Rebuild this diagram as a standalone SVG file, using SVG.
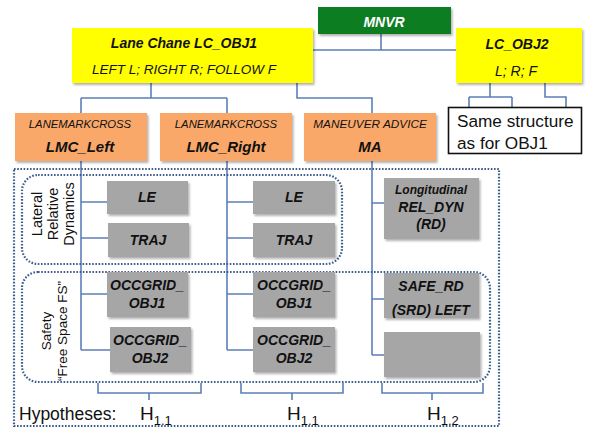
<svg xmlns="http://www.w3.org/2000/svg" width="591" height="429" viewBox="0 0 591 429">
<defs>
<filter id="sh" x="-10%" y="-10%" width="130%" height="140%">
<feDropShadow dx="1.5" dy="2" stdDeviation="1.2" flood-color="#000" flood-opacity="0.3"/>
</filter>
</defs>
<style>
.t{font-family:"Liberation Sans",Arial,sans-serif;fill:#111;text-anchor:middle}
.bi{font-weight:bold;font-style:italic}
.it{font-style:italic}
.yel{fill:#FFFF00}
.org{fill:#F9A86A}
.gry{fill:#A6A6A6}
.con{fill:none;stroke:#5B7FB8;stroke-width:1.6}
.dot{fill:none;stroke:#3E5C8E;stroke-width:2.2;stroke-dasharray:1.6 1.6}
</style>
<rect width="591" height="429" fill="#fff"/>

<g id="connectors">
<path class="con" d="M381 34V50M313 50H456"/>
<path class="con" d="M151 83V98M81 98H227M81 98V113M227 98V113"/>
<path class="con" d="M297 83V98H372V113"/>
<path class="con" d="M490 83V97M469 97H512M469 97V107M512 97V107M545 83V97H566V107"/>
<path class="con" d="M81 160V350M81 202H107M81 238H108M81 294H107M81 350H110"/>
<path class="con" d="M227 160V350M227 202H253M227 238H253M227 294H253M227 350H253"/>
<path class="con" d="M372 160V355M372 203H384M372 299H384M372 355H384"/>
<path class="con" d="M98 383V393H201V383M149 393V400"/>
<path class="con" d="M241 383V393H343V383M292 393V400"/>
<path class="con" d="M382 383V393H483V383M432 393V400"/>
</g>

<g id="outer"><rect class="dot" x="14" y="169" width="485" height="257"/></g>
<g id="lateral-group"><rect class="dot" x="22" y="175" width="320" height="89" rx="16"/>
<text class="t" font-size="14.5" transform="translate(54 214) rotate(-90)"><tspan x="0" y="-12">Lateral</tspan><tspan x="0" y="4">Relative</tspan><tspan x="0" y="20">Dynamics</tspan></text></g>
<g id="safety-group"><rect class="dot" x="22" y="272" width="468" height="110" rx="16"/>
<text class="t" font-size="13.5" transform="translate(55 331) rotate(-90)"><tspan x="0" y="-4">Safety</tspan><tspan x="0" y="12">“Free  Space FS”</tspan></text></g>

<g id="mnvr"><rect x="318" y="7" width="133" height="27" fill="#0E7D22" filter="url(#sh)"/>
<text class="t bi" x="384" y="27" font-size="14" style="fill:#fff">MNVR</text></g>

<g id="lc-obj1"><rect class="yel" x="72" y="28" width="241" height="55" filter="url(#sh)"/>
<text class="t bi" x="184" y="48" font-size="14">Lane Chane LC_OBJ1</text>
<text class="t it" x="184" y="74" font-size="13.5">LEFT L; RIGHT R; FOLLOW F</text></g>

<g id="lc-obj2"><rect class="yel" x="456" y="28" width="126" height="55" filter="url(#sh)"/>
<text class="t bi" x="517" y="49" font-size="14">LC_OBJ2</text>
<text class="t it" x="516" y="76" font-size="14">L; R; F</text></g>

<g id="same"><rect x="448.5" y="107.5" width="133" height="46" fill="#fff" stroke="#111" stroke-width="1.6"/>
<text class="t" x="457" y="127" font-size="17.2" style="text-anchor:start">Same structure</text>
<text class="t" x="457" y="149" font-size="17.2" style="text-anchor:start">as for OBJ1</text></g>

<g id="lmc-left"><rect class="org" x="15" y="113" width="132" height="48" filter="url(#sh)"/>
<text class="t it" x="80" y="128" font-size="11.3">LANEMARKCROSS</text>
<text class="t bi" x="80" y="152" font-size="15">LMC_Left</text></g>
<g id="lmc-right"><rect class="org" x="160" y="113" width="132" height="48" filter="url(#sh)"/>
<text class="t it" x="226" y="128" font-size="11.3">LANEMARKCROSS</text>
<text class="t bi" x="226" y="152" font-size="15">LMC_Right</text></g>
<g id="ma"><rect class="org" x="304" y="113" width="132" height="48" filter="url(#sh)"/>
<text class="t it" x="370" y="128" font-size="11.8">MANEUVER ADVICE</text>
<text class="t bi" x="370" y="152" font-size="15">MA</text></g>

<g id="le-left"><rect class="gry" x="107" y="181" width="81" height="33" filter="url(#sh)"/>
<text class="t bi" x="147" y="202" font-size="14">LE</text></g>
<g id="traj-left"><rect class="gry" x="108" y="223" width="81" height="34" filter="url(#sh)"/>
<text class="t bi" x="148" y="245" font-size="14">TRAJ</text></g>
<g id="occ1-left"><rect class="gry" x="107" y="272" width="81" height="45" filter="url(#sh)"/>
<text class="t bi" x="147" y="290" font-size="14">OCCGRID_</text><text class="t bi" x="147" y="308" font-size="14">OBJ1</text></g>
<g id="occ2-left"><rect class="gry" x="110" y="327" width="81" height="45" filter="url(#sh)"/>
<text class="t bi" x="150" y="345" font-size="14">OCCGRID_</text><text class="t bi" x="150" y="363" font-size="14">OBJ2</text></g>

<g id="le-right"><rect class="gry" x="253" y="181" width="82" height="33" filter="url(#sh)"/>
<text class="t bi" x="294" y="202" font-size="14">LE</text></g>
<g id="traj-right"><rect class="gry" x="253" y="223" width="82" height="34" filter="url(#sh)"/>
<text class="t bi" x="294" y="245" font-size="14">TRAJ</text></g>
<g id="occ1-right"><rect class="gry" x="253" y="272" width="82" height="45" filter="url(#sh)"/>
<text class="t bi" x="294" y="290" font-size="14">OCCGRID_</text><text class="t bi" x="294" y="308" font-size="14">OBJ1</text></g>
<g id="occ2-right"><rect class="gry" x="253" y="327" width="82" height="45" filter="url(#sh)"/>
<text class="t bi" x="294" y="345" font-size="14">OCCGRID_</text><text class="t bi" x="294" y="363" font-size="14">OBJ2</text></g>

<g id="rel-dyn"><rect class="gry" x="384" y="178" width="95" height="61" filter="url(#sh)"/>
<text class="t bi" x="431" y="194" font-size="12">Longitudinal</text>
<text class="t bi" x="431" y="212" font-size="14">REL_DYN</text>
<text class="t bi" x="431" y="229" font-size="14">(RD)</text></g>
<g id="safe-rd"><rect class="gry" x="384" y="273" width="95" height="45" filter="url(#sh)"/>
<text class="t bi" x="431" y="291" font-size="14">SAFE_RD</text>
<text class="t bi" x="431" y="315" font-size="14">(SRD) LEFT</text></g>
<g id="empty"><rect class="gry" x="384" y="332" width="96" height="45" filter="url(#sh)"/></g>

<g id="hypotheses">
<text class="t" x="19" y="420" font-size="17.5" style="text-anchor:start">Hypotheses:</text>
<text class="t" x="140" y="420" font-size="19" style="text-anchor:start">H<tspan font-size="13" dy="5">1.1</tspan></text>
<text class="t" x="287" y="420" font-size="19" style="text-anchor:start">H<tspan font-size="13" dy="5">1.1</tspan></text>
<text class="t" x="427" y="420" font-size="19" style="text-anchor:start">H<tspan font-size="13" dy="5">1.2</tspan></text>
</g>
</svg>
